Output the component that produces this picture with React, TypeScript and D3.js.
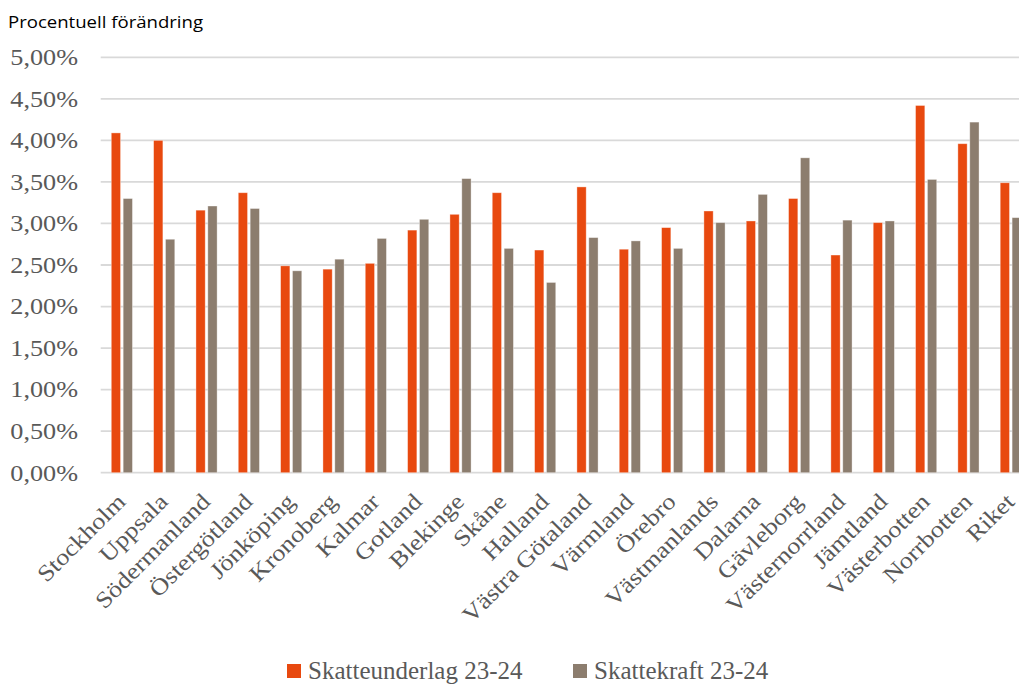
import React from 'react';
import * as d3 from 'd3';

// Regioner och procentuell förändring 23-24
const regions = [
  'Stockholm', 'Uppsala', 'Södermanland', 'Östergötland', 'Jönköping', 'Kronoberg',
  'Kalmar', 'Gotland', 'Blekinge', 'Skåne', 'Halland', 'Västra Götaland', 'Värmland',
  'Örebro', 'Västmanlands', 'Dalarna', 'Gävleborg', 'Västernorrland', 'Jämtland',
  'Västerbotten', 'Norrbotten', 'Riket',
];

const skatteunderlag = [
  4.09, 4.0, 3.16, 3.37, 2.49, 2.45, 2.52, 2.92, 3.11, 3.37, 2.68,
  3.44, 2.69, 2.95, 3.15, 3.03, 3.3, 2.62, 3.01, 4.42, 3.96, 3.49,
];

const skattekraft = [
  3.3, 2.81, 3.21, 3.18, 2.43, 2.57, 2.82, 3.05, 3.54, 2.7, 2.29,
  2.83, 2.79, 2.7, 3.01, 3.35, 3.79, 3.04, 3.03, 3.53, 4.22, 3.07,
];

const yTicks = [0, 0.5, 1, 1.5, 2, 2.5, 3, 3.5, 4, 4.5, 5];

const seriesNames = ['Skatteunderlag 23-24', 'Skattekraft 23-24'];

const W = 1019;
const H = 686;
const colors = ['#E8490F', '#8C7D6E'];
const textGray = '#595959';
const serif = '"Liberation Serif", "Times New Roman", serif';

const App: React.FC = () => {
  const plotLeft = 100.7;
  const step = 42.33;
  const x0 = d3.scaleBand<string>()
    .domain(regions)
    .range([plotLeft, plotLeft + step * regions.length])
    .paddingInner(0.5)
    .paddingOuter(0.25);

  const x1 = d3.scaleBand<number>()
    .domain([0, 1])
    .range([0, x0.bandwidth()])
    .paddingInner(0.22);

  const y = d3.scaleLinear().domain([0, 5]).range([472.7, 57.3]);

  const fmt = (v: number) => v.toFixed(2).replace('.', ',') + '%';
  const series = [skatteunderlag, skattekraft];

  return (
    <svg
      width={W}
      height={H}
      style={{ position: 'absolute', left: 0, top: 0, background: '#fff' }}
    >
      <text
        x={8}
        y={28}
        fontFamily='"Open Sans", Lato, sans-serif'
        fontSize={16}
        textLength={195}
        lengthAdjust="spacingAndGlyphs"
        fill="#000"
      >
        Procentuell förändring
      </text>

      {yTicks.map((t) => (
        <g key={t}>
          <line
            x1={plotLeft}
            x2={W}
            y1={y(t)}
            y2={y(t)}
            stroke="#d9d9d9"
            strokeWidth={1.8}
          />
          <text
            transform={`translate(78,${y(t) + 7.8}) scale(1.14,1)`}
            textAnchor="end"
            fontFamily={serif}
            fontSize={23}
            fill={textGray}
          >
            {fmt(t)}
          </text>
        </g>
      ))}

      {regions.map((r, i) => (
        <g key={r} transform={`translate(${x0(r)},0)`}>
          {series.map((s, k) => (
            <rect
              key={k}
              x={x1(k)}
              y={y(s[i])}
              width={x1.bandwidth()}
              height={y(0) - y(s[i])}
              fill={colors[k]}
              stroke="#fff"
              strokeOpacity={0.45}
              strokeWidth={0.8}
            />
          ))}
        </g>
      ))}

      {regions.map((r) => {
        const cx = (x0(r) ?? 0) + x0.bandwidth() / 2;
        return (
          <text
            key={r}
            transform={`translate(${cx + 5},${503}) rotate(-45) scale(1.14,1)`}
            textAnchor="end"
            fontFamily={serif}
            fontSize={23}
            fill={textGray}
          >
            {r}
          </text>
        );
      })}

      {seriesNames.map((name, k) => {
        const lx = k === 0 ? 287 : 573;
        return (
          <g key={name}>
            <rect x={lx} y={664} width={14} height={14} fill={colors[k]} />
            <text
              x={lx + 21}
              y={679}
              fontFamily={serif}
              fontSize={25}
              fill={textGray}
            >
              {name}
            </text>
          </g>
        );
      })}
    </svg>
  );
};

export default App;
